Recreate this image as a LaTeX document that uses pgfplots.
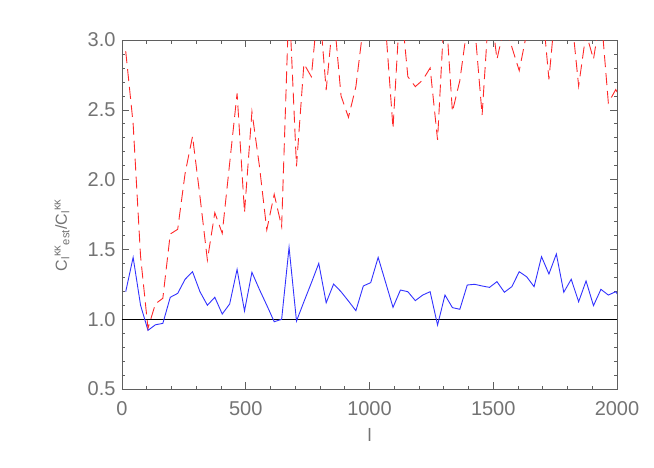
\documentclass[border=0pt]{standalone}
\usepackage{fontspec}
\setmainfont{Liberation Sans}
\usepackage{pgfplots}
\pgfplotsset{compat=1.18}
\definecolor{axgray}{RGB}{95,95,95}
\definecolor{txtgray}{RGB}{115,115,115}
\definecolor{myblue}{RGB}{50,50,255}
\definecolor{myred}{RGB}{255,40,40}
\begin{document}
\begin{tikzpicture}
\useasboundingbox (-122pt,-78pt) rectangle (532pt,389pt);
\begin{axis}[
 scale only axis, width=495pt, height=349pt,
 xmin=0, xmax=2000, ymin=0.5, ymax=3.0,
 xtick={0,500,1000,1500,2000},
 ytick={0.5,1.0,1.5,2.0,2.5,3.0},
 minor x tick num=4, minor y tick num=4,
 major tick length=7pt, minor tick length=3.5pt,
 axis line style={axgray, line width=0.8pt},
 every tick/.style={axgray, line width=0.6pt},
 tick label style={font=\fontsize{20}{22}\selectfont, text=txtgray},
 /pgf/number format/assume math mode=true,
 y tick label style={xshift=-3pt, /pgf/number format/fixed, /pgf/number format/fixed zerofill, /pgf/number format/precision=1},
 x tick label style={yshift=-9pt, /pgf/number format/set thousands separator={}},
 scaled ticks=false,
 xlabel={l},
 xlabel style={at={(axis description cs:0.5,-0.132)}, anchor=center, font=\fontsize{18}{20}\selectfont, text=txtgray},
 ylabel={C\textsubscript{l}\textsuperscript{κκ}\textsubscript{est}/C\textsubscript{l}\textsuperscript{κκ}},
 ylabel style={at={(axis description cs:-0.121,0.441)}, anchor=center, font=\fontsize{16}{18}\selectfont, text=txtgray},
]
\addplot[black, line width=1pt] coordinates {(0,1) (2000,1)};
\addplot[myblue, line width=0.9pt] coordinates {
(15,1.197) (45,1.443) (75,1.10) (105,0.92) (135,0.96) (165,0.97) (195,1.157) (225,1.185)
(255,1.286) (285,1.34) (315,1.197) (345,1.10) (375,1.157) (405,1.037) (435,1.109) (465,1.357)
(495,1.059) (525,1.336) (555,1.214) (585,1.10) (615,0.982) (645,0.999) (675,1.515) (705,0.987)
(735,1.125) (765,1.26) (795,1.40) (825,1.118) (855,1.252) (885,1.197) (915,1.13) (945,1.061)
(975,1.238) (1005,1.262) (1035,1.443) (1065,1.264) (1095,1.085) (1125,1.209) (1155,1.197) (1185,1.133)
(1215,1.173) (1245,1.197) (1275,0.958) (1305,1.173) (1335,1.083) (1365,1.071) (1395,1.245) (1425,1.25)
(1455,1.238) (1485,1.228) (1515,1.269) (1545,1.193) (1575,1.233) (1605,1.34) (1635,1.304) (1665,1.233)
(1695,1.448) (1725,1.324) (1755,1.467) (1785,1.193) (1815,1.286) (1845,1.125) (1875,1.274) (1905,1.097)
(1935,1.214) (1965,1.173) (1995,1.197) (2025,1.12)
};
\addplot[myred, line width=0.9pt, dash pattern=on 12pt off 6pt] coordinates {
(15,2.92) (45,2.40) (75,1.45) (105,0.935) (135,1.11) (165,1.15) (195,1.61) (225,1.644)
(255,2.045) (285,2.31) (315,1.88) (345,1.424) (375,1.763) (405,1.615) (435,2.117) (465,2.618)
(495,1.765) (525,2.486) (555,2.10) (585,1.64) (615,1.895) (645,1.663) (675,3.3) (705,2.095)
(735,2.83) (765,2.737) (795,3.3) (825,2.642) (855,3.2) (885,2.60) (915,2.446) (945,2.666)
(975,3.1) (1005,3.3) (1035,3.3) (1065,3.1) (1095,2.367) (1125,3.3) (1155,2.737) (1185,2.666)
(1215,2.713) (1245,2.80) (1275,2.284) (1305,3.3) (1335,2.486) (1365,2.71) (1395,3.1) (1425,3.1)
(1455,2.463) (1485,3.3) (1515,2.862) (1545,3.1) (1575,2.95) (1605,2.78) (1635,3.05) (1665,3.3)
(1695,3.3) (1725,2.718) (1755,3.3) (1785,3.3) (1815,3.2) (1845,2.67) (1875,3.05) (1905,2.862)
(1935,3.2) (1965,2.55) (1995,2.645) (2025,2.55)
};
\end{axis}
\end{tikzpicture}
\end{document}
